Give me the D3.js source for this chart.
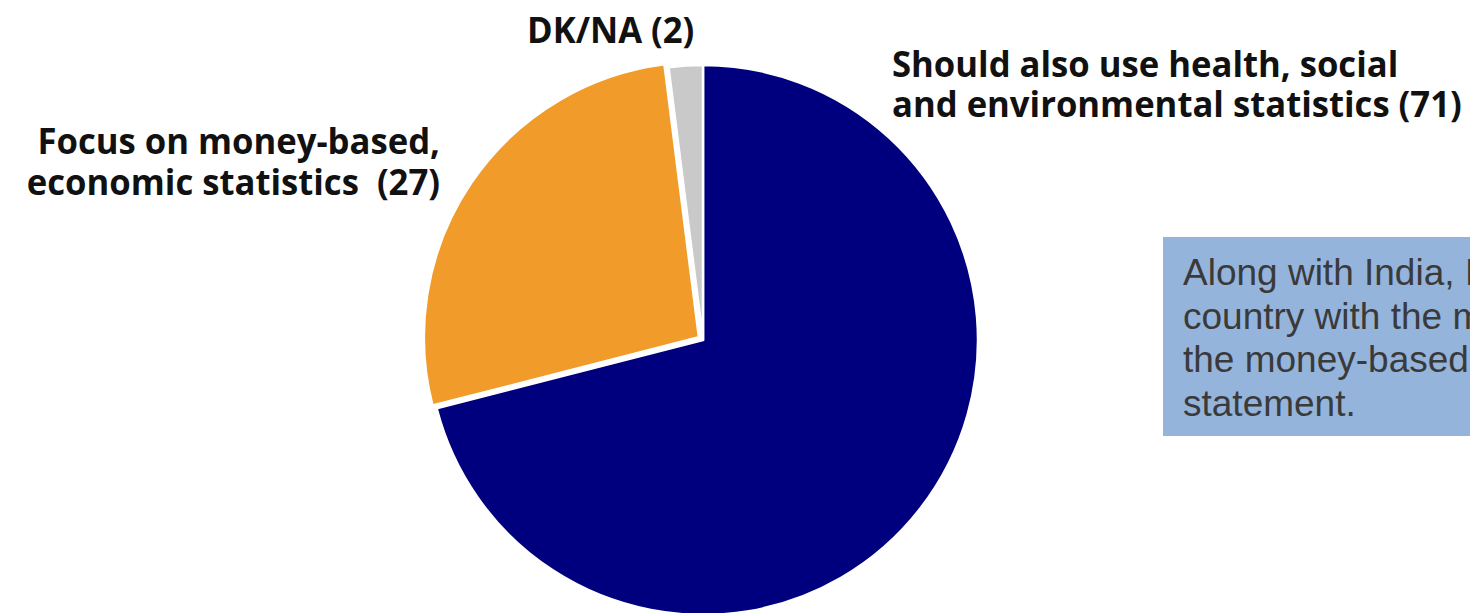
<!DOCTYPE html>
<html>
<head>
<meta charset="utf-8">
<script src="https://cdn.jsdelivr.net/npm/d3@7"></script>
<style>
  html, body { margin: 0; padding: 0; background: #fff; overflow: hidden; }
  .slice-label { font-family: "Open Sans", "Noto Sans", sans-serif; font-weight: 700; font-size: 35px; fill: #111; white-space: pre; }
  .note-text { font-family: "Liberation Sans", Arial, sans-serif; font-size: 37px; fill: #3a3a3a; }
</style>
</head>
<body>
<svg id="chart"></svg>
<script>
// survey answers, percent
const categories = ['Should also use health, social and environmental statistics', 'Focus on money-based, economic statistics', 'DK/NA'];
const values = [71, 27, 2];
const sliceColors = ['#00007e', '#f09b2a', '#c9c9c9'];
const labelLines = [
  ['Should also use health, social', 'and environmental statistics (71)'],
  ['Focus on money-based,', 'economic statistics  (27)'],
  ['DK/NA (2)']
];
const noteLines = ['Along with India, Indonesia is the', 'country with the most support for', 'the money-based measurement', 'statement.'];

class PieChart {

  constructor(_config, _data) {
    this.config = {
      parentElement: _config.parentElement,
      containerWidth: _config.containerWidth || 1470,
      containerHeight: _config.containerHeight || 613,
      cx: 703,
      cy: 340,
      radius: 275
    }
    this.data = _data;
    this.initVis();
  }

  initVis() {
    let vis = this;

    vis.svg = d3.select(vis.config.parentElement)
        .attr('width', vis.config.containerWidth)
        .attr('height', vis.config.containerHeight);

    vis.pie = d3.pie()
        .sort(null)
        .value(d => d.value);

    vis.arc = d3.arc()
        .innerRadius(0)
        .outerRadius(vis.config.radius);

    vis.chart = vis.svg.append('g')
        .attr('transform', `translate(${vis.config.cx},${vis.config.cy})`);

    vis.updateVis();
  }

  updateVis() {
    let vis = this;
    vis.arcs = vis.pie(vis.data);
    // orange slice is pulled out a little
    vis.explode = d => d.index === 1 ? 5 : 0;
    vis.renderVis();
  }

  renderVis() {
    let vis = this;

    vis.chart.selectAll('.slice')
        .data(vis.arcs)
      .join('path')
        .attr('class', 'slice')
        .attr('d', vis.arc)
        .attr('fill', d => d.data.color)
        .attr('stroke', '#fff')
        .attr('stroke-width', 2.5)
        .attr('transform', d => {
          let a = (d.startAngle + d.endAngle) / 2;
          let k = vis.explode(d);
          return `translate(${Math.sin(a) * k},${-Math.cos(a) * k})`;
        });

    // label placement, one per slice
    const labelPos = [
      {x: 892, y: 77, anchor: 'start', lh: 40},
      {x: 440, y: 154, anchor: 'end', lh: 41},
      {x: 527, y: 43, anchor: 'start', lh: 40}
    ];
    const squeeze = 0.99;

    vis.arcs.forEach((d, i) => {
      let p = labelPos[i];
      d.data.lines.forEach((line, j) => {
        let t = vis.svg.append('text')
            .attr('class', 'slice-label')
            .attr('x', p.x)
            .attr('y', p.y + j * p.lh)
            .attr('text-anchor', p.anchor)
            .text(line);
        let w = t.node().getComputedTextLength();
        t.attr('textLength', w * squeeze).attr('lengthAdjust', 'spacingAndGlyphs');
      });
    });

    // note box on the right
    let note = vis.svg.append('g');
    note.append('rect')
        .attr('x', 1163)
        .attr('y', 237)
        .attr('width', 400)
        .attr('height', 199)
        .attr('fill', '#95b4dc');
    note.selectAll('text')
        .data(noteLines)
      .join('text')
        .attr('class', 'note-text')
        .attr('x', 1183)
        .attr('y', (d, i) => 285 + i * 43.5)
        .text(d => d);
  }
}

let data = categories.map((c, i) => ({category: c, value: values[i], color: sliceColors[i], lines: labelLines[i]}));
new PieChart({parentElement: '#chart'}, data);
</script>
</body>
</html>
